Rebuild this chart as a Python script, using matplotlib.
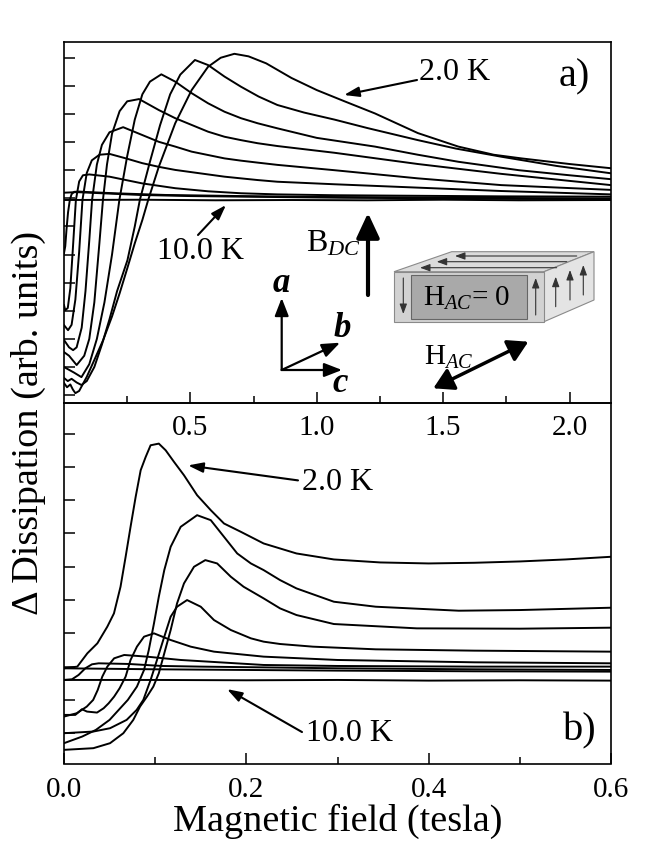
import matplotlib
matplotlib.use('Agg')
import matplotlib.pyplot as plt
from matplotlib.patches import Polygon, Rectangle

plt.rcParams['font.family'] = ['Liberation Serif', 'DejaVu Serif']
plt.rcParams['mathtext.fontset'] = 'custom'
plt.rcParams['mathtext.rm'] = 'Liberation Serif'
plt.rcParams['mathtext.it'] = 'Liberation Serif:italic'
plt.rcParams['mathtext.bf'] = 'Liberation Serif:bold'

# ---- panel a) : field up to 2.16 T, dissipation in arb. units (one unit = one tick) ----
fA = [0, 0.012, 0.025, 0.035, 0.045, 0.06, 0.09, 0.12, 0.155, 0.19, 0.22, 0.25, 0.28, 0.31, 0.333, 0.375,
      0.44, 0.505, 0.57, 0.62, 0.674, 0.73, 0.80, 0.90, 1.0, 1.11, 1.23, 1.40, 1.56, 1.70, 1.81, 2.0, 2.164]
vA = [-6.57, -6.72, -6.62, -6.80, -6.93, -6.85, -6.35, -5.75, -5.04, -4.2, -3.38, -2.5, -1.6, -0.77, -0.06, 1.12,
      2.67, 3.85, 4.68, 5.0, 5.14, 5.05, 4.8, 4.28, 3.85, 3.45, 3.02, 2.32, 1.84, 1.55, 1.42, 1.22, 1.07]
fB = [0, 0.015, 0.03, 0.05, 0.069, 0.09, 0.12, 0.15, 0.18, 0.21, 0.251, 0.28, 0.30, 0.34, 0.38, 0.42, 0.46,
      0.518, 0.57, 0.635, 0.70, 0.77, 0.844, 0.95, 1.07, 1.2, 1.40, 1.55, 1.73, 1.95, 2.164]
vB = [-6.39, -6.5, -6.42, -6.55, -6.64, -6.5, -6.0, -5.2, -4.3, -3.3, -2.2, -1.0, -0.06, 1.3, 2.6, 3.7, 4.4,
      4.92, 4.74, 4.33, 3.97, 3.62, 3.32, 3.05, 2.8, 2.5, 2.07, 1.77, 1.48, 1.15, 0.89]
fC = [0, 0.02, 0.04, 0.069, 0.1, 0.13, 0.16, 0.19, 0.219, 0.25, 0.28, 0.31, 0.34, 0.385, 0.44, 0.505, 0.57,
      0.635, 0.70, 0.766, 0.844, 1.0, 1.23, 1.4, 1.56, 1.8, 2.0, 2.164]
vC = [-6.0, -6.1, -6.2, -6.36, -5.9, -5.0, -3.7, -2.0, -0.06, 1.5, 2.8, 3.7, 4.15, 4.41, 4.15, 3.74, 3.38,
      3.08, 2.85, 2.67, 2.49, 2.15, 1.84, 1.55, 1.30, 1.0, 0.82, 0.68]
fD = [0, 0.02, 0.05, 0.08, 0.1, 0.12, 0.14, 0.154, 0.17, 0.19, 0.22, 0.25, 0.297, 0.375, 0.44, 0.505, 0.57,
      0.635, 0.70, 0.766, 0.844, 1.07, 1.4, 1.73, 2.0, 2.164]
vD = [-5.47, -5.6, -5.93, -5.6, -5.0, -3.7, -1.6, -0.06, 1.2, 2.3, 3.1, 3.45, 3.53, 3.14, 2.85, 2.61, 2.37,
      2.19, 2.07, 1.96, 1.86, 1.62, 1.22, 0.87, 0.62, 0.47]
fE = [0, 0.02, 0.036, 0.05, 0.07, 0.085, 0.1, 0.111, 0.13, 0.15, 0.18, 0.234, 0.31, 0.375, 0.44, 0.505, 0.57,
      0.635, 0.70, 0.766, 0.844, 1.07, 1.4, 1.73, 2.164]
vE = [-5.04, -5.3, -5.40, -5.3, -4.6, -3.3, -1.5, -0.06, 1.2, 1.9, 2.35, 2.53, 2.25, 2.01, 1.84, 1.66, 1.54,
      1.42, 1.34, 1.27, 1.19, 1.0, 0.71, 0.47, 0.30]
fF = [0, 0.016, 0.03, 0.045, 0.06, 0.073, 0.09, 0.11, 0.14, 0.18, 0.245, 0.31, 0.375, 0.44, 0.505, 0.57,
      0.635, 0.70, 0.766, 0.844, 1.07, 1.4, 1.73, 2.164]
vF = [-4.51, -4.69, -4.5, -3.6, -1.9, -0.06, 0.9, 1.35, 1.55, 1.58, 1.42, 1.25, 1.12, 1.01, 0.93, 0.85,
      0.77, 0.71, 0.65, 0.59, 0.50, 0.38, 0.26, 0.14]
fG = [0, 0.005, 0.015, 0.025, 0.035, 0.047, 0.06, 0.075, 0.1, 0.12, 0.18, 0.31, 0.44, 0.57, 0.70, 0.844,
      1.07, 1.4, 1.73, 2.164]
vG = [-3.80, -3.98, -3.9, -3.2, -1.8, -0.06, 0.6, 0.82, 0.85, 0.83, 0.77, 0.53, 0.36, 0.25, 0.18, 0.14,
      0.11, 0.09, 0.07, 0.06]
fH = [0, 0.05, 0.15, 0.3, 0.5, 0.8, 1.1, 1.5, 1.8, 2.164]
vH = [0.2, 0.22, 0.18, 0.12, 0.08, 0.05, 0.02, 0.0, -0.02, -0.03]
fI = [0, 0.005, 0.01, 0.016, 0.023, 0.03, 0.04, 0.06, 0.1, 0.2, 0.4, 0.7, 1.0, 1.4, 1.8, 2.164]
vI = [-1.95, -1.7, -1.1, -0.5, -0.06, 0.15, 0.23, 0.24, 0.22, 0.18, 0.12, 0.08, 0.05, 0.03, 0.01, 0.0]
fJ = [0, 0.3, 0.6, 0.9, 1.2, 1.5, 1.8, 2.164]
vJ = [-0.06, -0.05, -0.07, -0.06, -0.07, -0.05, -0.07, -0.06]

top_curves = [(fA, vA), (fB, vB), (fC, vC), (fD, vD), (fE, vE), (fF, vF), (fG, vG), (fH, vH), (fI, vI), (fJ, vJ)]

# ---- panel b) : low field region ----
f1 = [0, 0.0146, 0.0256, 0.0366, 0.0475, 0.0548, 0.062, 0.0676, 0.073, 0.0786, 0.0841, 0.0896, 0.095, 0.104,
      0.1115, 0.1207, 0.1316, 0.146, 0.161, 0.1755, 0.194, 0.219, 0.237, 0.255, 0.296, 0.347, 0.40, 0.45,
      0.50, 0.55, 0.60]
w1 = [1.95, 2.0, 2.4, 2.7, 3.2, 3.6, 4.4, 5.3, 6.2, 7.1, 7.9, 8.3, 8.65, 8.7,
      8.5, 8.15, 7.75, 7.15, 6.7, 6.3, 6.05, 5.7, 5.55, 5.4, 5.22, 5.13, 5.10, 5.12,
      5.16, 5.22, 5.30]
f2 = [0, 0.02, 0.035, 0.05, 0.06, 0.07, 0.08, 0.0878, 0.093, 0.0987, 0.104, 0.11, 0.117, 0.128, 0.146,
      0.161, 0.1755, 0.19, 0.205, 0.219, 0.237, 0.255, 0.296, 0.342, 0.433, 0.5, 0.6]
w2 = [-0.3, -0.1, 0.1, 0.4, 0.7, 1.0, 1.4, 1.9, 2.5, 3.3, 4.1, 4.9, 5.6, 6.2, 6.55,
      6.4, 5.9, 5.4, 5.1, 4.9, 4.6, 4.35, 3.95, 3.8, 3.68, 3.7, 3.77]
f3 = [0, 0.0322, 0.0505, 0.0651, 0.076, 0.0834, 0.091, 0.098, 0.104, 0.11, 0.117, 0.124, 0.1316, 0.1426,
      0.155, 0.168, 0.183, 0.197, 0.219, 0.237, 0.255, 0.296, 0.387, 0.5, 0.6]
w3 = [-0.5, -0.45, -0.3, 0.0, 0.4, 0.8, 1.1, 1.4, 1.8, 2.4, 3.1, 3.9, 4.5, 5.0,
      5.2, 5.1, 4.7, 4.4, 4.05, 3.75, 3.55, 3.28, 3.15, 3.14, 3.17]
f4 = [0, 0.0322, 0.0505, 0.0687, 0.0797, 0.087, 0.095, 0.102, 0.11, 0.117, 0.124, 0.135,
      0.15, 0.1645, 0.183, 0.205, 0.219, 0.237, 0.273, 0.342, 0.45, 0.6]
w4 = [0.0, 0.05, 0.15, 0.4, 0.7, 1.0, 1.6, 2.2, 2.9, 3.5, 3.8, 4.0,
      3.8, 3.4, 3.1, 2.85, 2.75, 2.68, 2.6, 2.52, 2.48, 2.45]
f5 = [0, 0.0124, 0.0197, 0.0252, 0.0362, 0.0435, 0.049, 0.055, 0.061, 0.0676, 0.073, 0.08, 0.0878, 0.0987,
      0.117, 0.139, 0.1645, 0.219, 0.3, 0.45, 0.6]
w5 = [0.55, 0.55, 0.72, 0.65, 0.62, 0.75, 0.9, 1.1, 1.35, 1.7, 2.2, 2.6, 2.9, 3.0,
      2.8, 2.6, 2.45, 2.3, 2.2, 2.13, 2.1]
f6 = [0, 0.014, 0.025, 0.032, 0.037, 0.042, 0.0475, 0.055, 0.066, 0.091, 0.128, 0.219, 0.3, 0.45, 0.6]
w6 = [0.5, 0.6, 0.8, 1.0, 1.3, 1.7, 2.0, 2.25, 2.35, 2.3, 2.2, 2.05, 2.02, 2.0, 2.0]
f7 = [0, 0.0088, 0.016, 0.0234, 0.0307, 0.038, 0.071, 0.1075, 0.1514, 0.3, 0.45, 0.6]
w7 = [1.6, 1.62, 1.75, 1.95, 2.07, 2.1, 2.08, 2.02, 2.0, 1.95, 1.92, 1.9]
f8 = [0, 0.1, 0.2, 0.3, 0.45, 0.6]
w8 = [1.95, 1.92, 1.9, 1.88, 1.86, 1.85]
f9 = [0, 0.1, 0.2, 0.3, 0.4, 0.5, 0.6]
w9 = [1.6, 1.6, 1.59, 1.6, 1.58, 1.59, 1.58]

bottom_curves = [(f1, w1), (f2, w2), (f3, w3), (f4, w4), (f5, w5), (f6, w6), (f7, w7), (f8, w8), (f9, w9)]

top_xticks = [0.5, 1.0, 1.5, 2.0]
top_xminor = [0.25, 0.75, 1.25, 1.75]
bot_xticks = [0.0, 0.2, 0.4, 0.6]
bot_xminor = [0.1, 0.3, 0.5]

W, H = 654, 856


def px_axes(px, py, top=True):
  # convert a picture pixel position to axes fraction of the chosen panel
  y0 = 403 if top else 763.5
  return ((px - 64) / 547.0, (y0 - py) / 361.0)


def arrow(ax, p0, p1, style, lw, ms, color='k', top=True):
  ax.annotate('', xy=px_axes(*p1, top=top), xytext=px_axes(*p0, top=top),
              xycoords='axes fraction', textcoords='axes fraction',
              arrowprops=dict(arrowstyle=style, lw=lw, color=color, mutation_scale=ms,
                              shrinkA=0, shrinkB=0))


def text(ax, px, py, s, top=True, **kw):
  x, y = px_axes(px, py, top=top)
  ax.text(x, y, s, transform=ax.transAxes, **kw)


fig = plt.figure(figsize=(W / 100.0, H / 100.0), dpi=100)
ax1 = fig.add_axes([64 / W, 1 - 403 / H, 547 / W, 361 / H])
ax2 = fig.add_axes([64 / W, 1 - 763.5 / H, 547 / W, 360.5 / H])

for f, v in top_curves:
  ax1.plot(f, v, color='k', lw=1.4)
for f, w in bottom_curves:
  ax2.plot(f, w, color='k', lw=1.4)

ax1.set_xlim(0, 2.164)
ax1.set_ylim(-7.28, 5.56)
ax2.set_xlim(0, 0.6)
ax2.set_ylim(-0.91, 9.92)

ax1.set_xticks(top_xticks)
ax1.set_xticks(top_xminor, minor=True)
ax1.set_xticklabels(['{:.1f}'.format(t) for t in top_xticks])
ax1.set_yticks(range(-7, 6))
ax1.set_yticklabels([])
ax2.set_xticks(bot_xticks)
ax2.set_xticks(bot_xminor, minor=True)
ax2.set_xticklabels(['{:.1f}'.format(t) for t in bot_xticks])
ax2.set_yticks(range(0, 10))
ax2.set_yticklabels([])

for ax, pad in ((ax1, 9), (ax2, 10)):
  ax.tick_params(axis='both', which='major', direction='in', length=8, width=1.1, labelsize=21, pad=pad)
  ax.tick_params(axis='both', which='minor', direction='in', length=5, width=1.1)
  ax.tick_params(top=False, right=False)
  for sp in ax.spines.values():
    sp.set_linewidth(1.2)
ax1.set_zorder(3)
ax1.patch.set_alpha(0)

# panel a) annotations
text(ax1, 419, 73, '2.0 K', fontsize=23, ha='left', va='center')
arrow(ax1, (417, 80), (344, 95), '-|>,head_length=0.9,head_width=0.3', 1.5, 10)
text(ax1, 157, 252, '10.0 K', fontsize=23, ha='left', va='center')
arrow(ax1, (198, 235), (226, 205), '-|>,head_length=0.9,head_width=0.3', 1.5, 10)
text(ax1, 574, 77, 'a)', fontsize=29, ha='center', va='center')

text(ax1, 306, 244, r'B$_{DC}$', fontsize=23, ha='left', va='center')
arrow(ax1, (368, 295), (368, 213), '-|>,head_length=0.75,head_width=0.35', 3, 20)

# crystal axes
o = (281.7, 370)
arrow(ax1, o, (281.7, 298), '-|>,head_length=0.9,head_width=0.35', 1.6, 12)
arrow(ax1, o, (342, 370), '-|>,head_length=0.9,head_width=0.35', 1.6, 12)
arrow(ax1, o, (340, 342.7), '-|>,head_length=0.9,head_width=0.35', 1.6, 12)
text(ax1, 281.7, 284, 'a', fontsize=25, fontweight='bold', fontstyle='italic', ha='center', va='center')
text(ax1, 342, 329, 'b', fontsize=25, fontweight='bold', fontstyle='italic', ha='center', va='center')
text(ax1, 340, 384, 'c', fontsize=25, fontweight='bold', fontstyle='italic', ha='center', va='center')

# sample block
top_face = [px_axes(394, 271.7), px_axes(544, 271.7), px_axes(594, 251.7), px_axes(451.7, 251.7)]
right_face = [px_axes(544, 271.7), px_axes(594, 251.7), px_axes(594, 300), px_axes(544, 321.7)]
front_face = [px_axes(394, 271.7), px_axes(544, 271.7), px_axes(544, 321.7), px_axes(394, 321.7)]
for pts, col in ((top_face, '#dcdcdc'), (right_face, '#e4e4e4'), (front_face, '#d2d2d2')):
  ax1.add_patch(Polygon(pts, closed=True, transform=ax1.transAxes, facecolor=col,
                        edgecolor='#8a8a8a', lw=0.8, zorder=4))
x0, y0 = px_axes(411, 319)
x1, y1 = px_axes(527.3, 275)
ax1.add_patch(Rectangle((x0, y0), x1 - x0, y1 - y0, transform=ax1.transAxes, facecolor='#a9a9a9',
                        edgecolor='#666666', lw=0.8, zorder=5))
text(ax1, 423, 298, r'H$_{AC}$= 0', fontsize=21, ha='left', va='center', zorder=6)

thin = '-|>,head_length=0.6,head_width=0.22'
for p0, p1 in (((576.7, 256), (455, 256)), ((566.7, 261.7), (436.7, 261.7)), ((556.7, 267.7), (420, 267.7)),
               ((403.3, 278), (403.3, 314)), ((535.7, 315), (535.7, 278)),
               ((555.7, 306.7), (555.7, 276.7)), ((570, 300), (570, 270)), ((583.3, 295), (583.3, 265))):
  ax1.annotate('', xy=px_axes(*p1), xytext=px_axes(*p0), xycoords='axes fraction', textcoords='axes fraction',
               arrowprops=dict(arrowstyle=thin, lw=0.8, color='#333333', mutation_scale=10,
                               shrinkA=0, shrinkB=0), zorder=6)

arrow(ax1, (433.3, 388.3), (528.3, 341.7), '<|-|>,head_length=0.6,head_width=0.35', 2.5, 20)
text(ax1, 424, 357, r'H$_{AC}$', fontsize=21, ha='left', va='center')

# panel b) annotations
text(ax2, 302, 482, '2.0 K', top=False, fontsize=23, ha='left', va='center')
arrow(ax2, (298, 480), (188, 465), '-|>,head_length=0.9,head_width=0.3', 1.5, 10, top=False)
text(ax2, 306, 733, '10.0 K', top=False, fontsize=23, ha='left', va='center')
arrow(ax2, (302, 732), (227, 689), '-|>,head_length=0.9,head_width=0.3', 1.5, 10, top=False)
text(ax2, 580, 731, 'b)', top=False, fontsize=29, ha='center', va='center')

fig.text(337.5 / W, 1 - 821 / H, 'Magnetic field (tesla)', fontsize=27.5, ha='center', va='center')
fig.text(28 / W, 1 - 423 / H, u'\u0394 Dissipation (arb. units)', fontsize=27.5, ha='center', va='center',
         rotation=90)

fig.savefig('out.png', dpi=100)
